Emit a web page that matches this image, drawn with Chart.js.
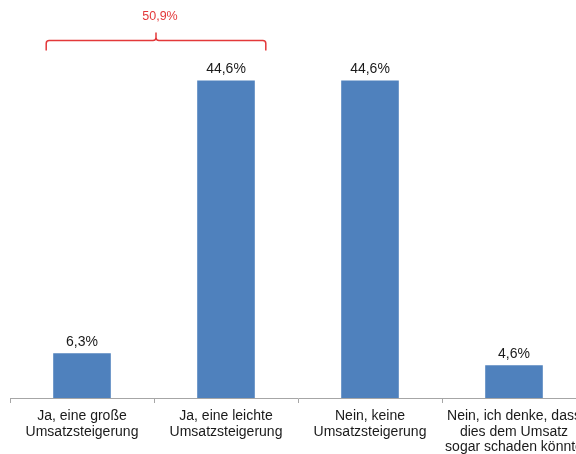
<!DOCTYPE html>
<html>
<head>
<meta charset="utf-8">
<script src="https://cdn.jsdelivr.net/npm/chart.js@4/dist/chart.umd.min.js"></script>
<style>
  html, body { margin: 0; padding: 0; background: #fff; overflow: hidden; }
  #wrap { width: 600px; height: 454px; }
</style>
</head>
<body>
<div id="wrap"><canvas id="c" width="600" height="454"></canvas></div>
<script>
// Antworten (Kategorien) und Anteile in %
const categories = [
  ['Ja, eine große', 'Umsatzsteigerung'],
  ['Ja, eine leichte', 'Umsatzsteigerung'],
  ['Nein, keine', 'Umsatzsteigerung'],
  ['Nein, ich denke, dass', 'dies dem Umsatz', 'sogar schaden könnte']
]
const shares = [6.3, 44.6, 44.6, 4.6]
const bracketLabel = '50,9%'   // Summe der beiden "Ja"-Antworten

const fmt = v => v.toFixed(1).replace('.', ',') + '%'

// Werte über den Balken
const valueLabels = {
  id: 'valueLabels',
  afterDatasetsDraw(chart) {
    const ctx = chart.ctx
    const meta = chart.getDatasetMeta(0)
    ctx.save()
    ctx.font = '14px "Liberation Sans", Arial, sans-serif'
    ctx.fillStyle = '#1a1a1a'
    ctx.textAlign = 'center'
    ctx.textBaseline = 'middle'
    meta.data.forEach((bar, i) => {
      ctx.fillText(fmt(shares[i]), bar.x, bar.y - 11)
    })
    ctx.restore()
  }
}

// rote Klammer über den ersten beiden Balken
const bracket = {
  id: 'bracket',
  afterDraw(chart) {
    const ctx = chart.ctx
    const meta = chart.getDatasetMeta(0)
    const b0 = meta.data[0], b1 = meta.data[1]
    const left = b0.x - b0.width / 2 - 7
    const right = b1.x + b1.width / 2 + 11
    const mid = (left + right) / 2
    const y = chart.chartArea.top - 1.5
    const r = 3
    ctx.save()
    ctx.strokeStyle = '#e3383a'
    ctx.lineWidth = 1.5
    ctx.beginPath()
    ctx.moveTo(left, y + 10)
    ctx.lineTo(left, y + r)
    ctx.quadraticCurveTo(left, y, left + r, y)
    ctx.lineTo(mid - r, y)
    ctx.quadraticCurveTo(mid, y, mid, y - r)
    ctx.lineTo(mid, y - 8)
    ctx.moveTo(mid, y - r)
    ctx.quadraticCurveTo(mid, y, mid + r, y)
    ctx.lineTo(right - r, y)
    ctx.quadraticCurveTo(right, y, right, y + r)
    ctx.lineTo(right, y + 10)
    ctx.stroke()
    ctx.font = '12.5px "Liberation Sans", Arial, sans-serif'
    ctx.fillStyle = '#e3383a'
    ctx.textAlign = 'center'
    ctx.textBaseline = 'middle'
    ctx.fillText(bracketLabel, mid + 4, 17)
    ctx.restore()
  }
}

new Chart(document.getElementById('c'), {
  type: 'bar',
  data: {
    labels: categories,
    datasets: [{
      data: shares,
      backgroundColor: '#4f81bd',
      categoryPercentage: 1,
      barPercentage: 0.4
    }]
  },
  options: {
    responsive: false,
    animation: false,
    layout: { padding: { top: 42, left: 10, right: 14, bottom: 0 } },
    plugins: { legend: { display: false }, tooltip: { enabled: false } },
    scales: {
      y: { display: false, min: 0, max: 50 },
      x: {
        afterFit(scale) { scale.height = 56 },
        border: { color: '#a6a6a6', width: 1 },
        grid: { drawOnChartArea: false, color: '#a6a6a6', tickLength: 5, offset: true },
        ticks: {
          color: '#1a1a1a',
          padding: 6,
          maxRotation: 0,
          autoSkip: false,
          font: { family: '"Liberation Sans", Arial, sans-serif', size: 14, lineHeight: 1.08 }
        }
      }
    }
  },
  plugins: [valueLabels, bracket]
})
</script>
</body>
</html>
